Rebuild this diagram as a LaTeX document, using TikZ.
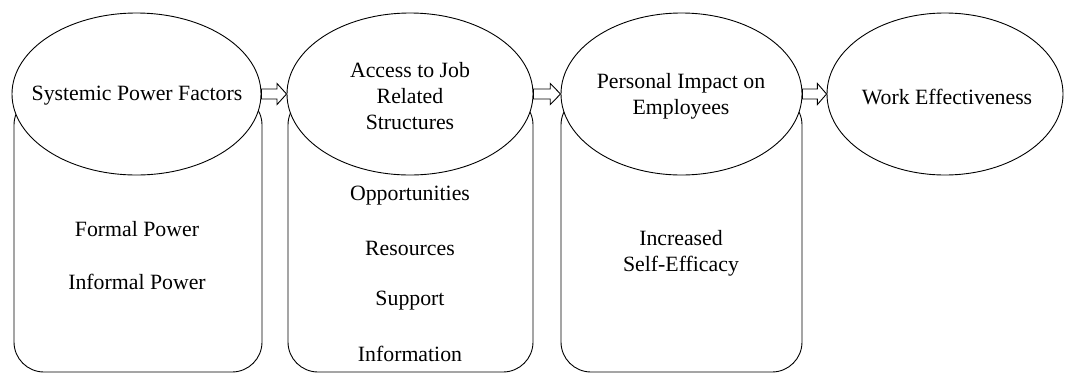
\documentclass[tikz,border=0pt]{standalone}
\usepackage{fontspec}
\setmainfont{Liberation Serif}
\usetikzlibrary{calc,shapes.geometric}
\tikzset{
  lbl/.style={font=\fontsize{21.8}{26}\selectfont, align=center, inner sep=0pt},
  oval/.style={ellipse, draw=black, line width=0.9pt, fill=white, inner sep=0pt},
  panel/.style={rectangle, draw=black, line width=0.9pt, fill=white, rounded corners=30pt, inner sep=0pt},
  blk/.style={draw=black, line width=0.9pt, fill=white, line join=miter}
}
\begin{document}
\begin{tikzpicture}[x=1pt,y=-1pt]
\useasboundingbox (0,0) rectangle (1075,373);
% panels
\node[panel, minimum width=248pt, minimum height=277pt] (r1) at (138,233.5) {};
\node[panel, minimum width=245pt, minimum height=277pt] (r2) at (410.5,233.5) {};
\node[panel, minimum width=241pt, minimum height=277pt] (r3) at (681.5,233.5) {};
% ellipses
\node[oval, minimum width=249pt, minimum height=162pt] (e1) at (136.5,94) {};
\node[oval, minimum width=246pt, minimum height=162pt] (e2) at (410,94) {};
\node[oval, minimum width=241pt, minimum height=162pt] (e3) at (681.5,94) {};
\node[oval, minimum width=236pt, minimum height=162pt] (e4) at (945,94) {};
% ellipse texts
\node[lbl] (t1) at (137,96) {Systemic Power Factors};
\node[lbl] (t2) at (410,96) {Access to Job\\Related\\Structures};
\node[lbl] (t3) at (681,96) {Personal Impact on\\Employees};
\node[lbl] (t4) at (947,97) {Work Effectiveness};
% panel texts
\node[lbl] (p1a) at (137,229) {Formal Power};
\node[lbl] (p1b) at (137,282) {Informal Power};
\node[lbl] (p2a) at (410,196) {Opportunities};
\node[lbl] (p2b) at (410,248) {Resources};
\node[lbl] (p2c) at (410,301) {Support};
\node[lbl] (p2d) at (410,354) {Information};
\node[lbl] (p3) at (681,253) {Increased\\Self-Efficacy};
% block arrows
\foreach \a/\b in {e1/e2, e2/e3, e3/e4}{
  \draw[blk] ($(\a.east)+(0,-5)$) -- ($(\a.east)!0.62!(\b.west)+(0,-5)$)
    -- ($(\a.east)!0.62!(\b.west)+(0,-10.5)$) -- (\b.west)
    -- ($(\a.east)!0.62!(\b.west)+(0,10.5)$) -- ($(\a.east)!0.62!(\b.west)+(0,5)$)
    -- ($(\a.east)+(0,5)$) -- cycle;
}
\end{tikzpicture}
\end{document}
